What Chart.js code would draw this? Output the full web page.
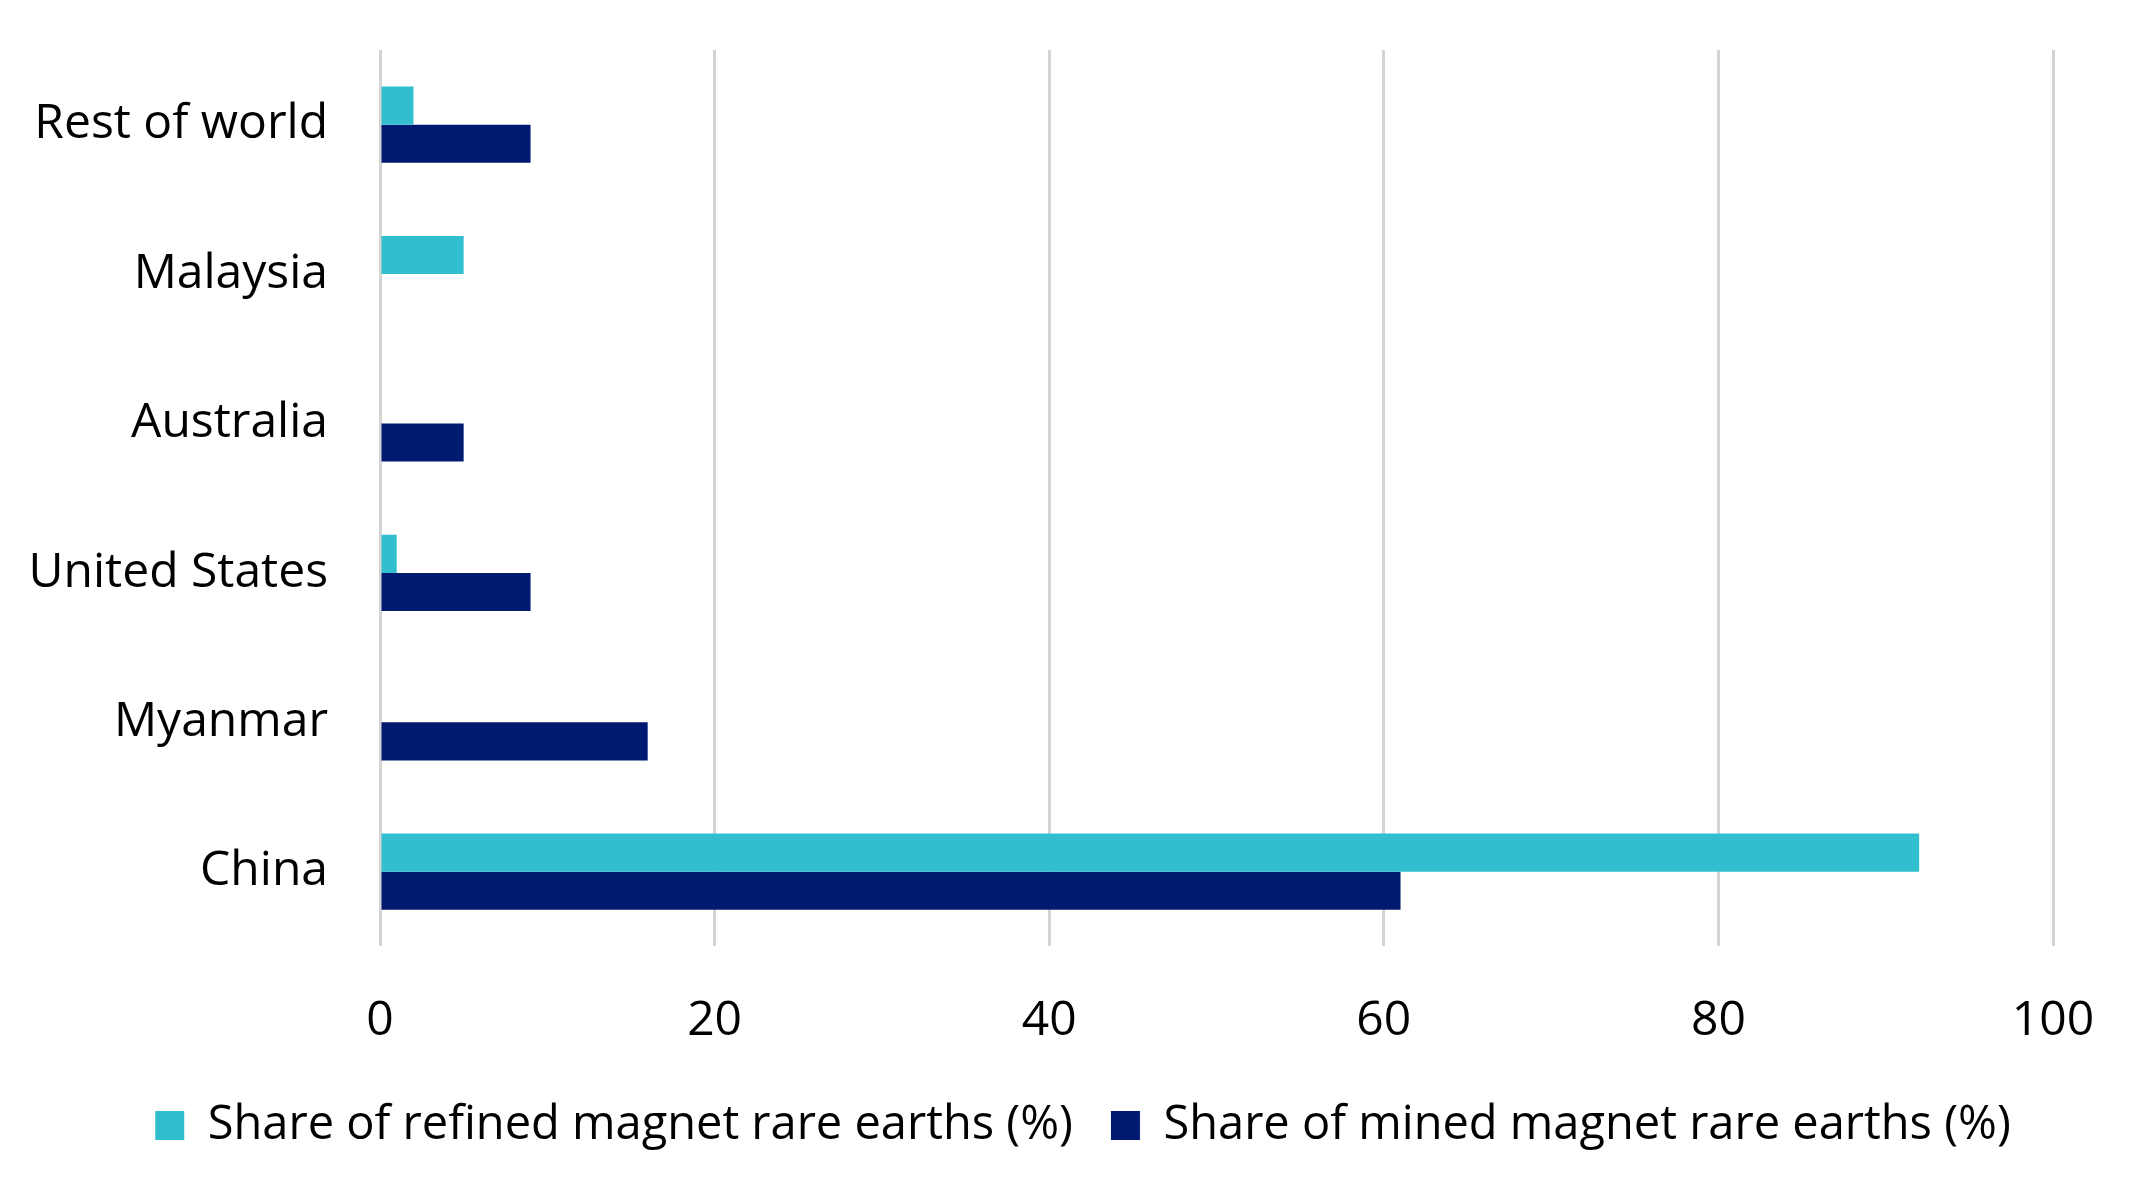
<!DOCTYPE html>
<html>
<head>
<meta charset="utf-8">
<script src="https://cdn.jsdelivr.net/npm/chart.js@4.4.1/dist/chart.umd.min.js"></script>
<style>
  html, body { margin: 0; padding: 0; background: #fff; }
</style>
</head>
<body>
<canvas id="rareEarthsChart" width="2145" height="1195"></canvas>
<script>
const countries = ['Rest of world', 'Malaysia', 'Australia', 'United States', 'Myanmar', 'China']

const refinedShare = [2, 5, 0, 1, 0, 92]
const minedShare = [9, 0, 5, 9, 16, 61]

const xTicks = [0, 20, 40, 60, 80, 100]

const data = {
  labels: countries,
  datasets: [{
    label: 'Share of refined magnet rare earths (%)',
    backgroundColor: '#31bfcf',
    data: refinedShare
  }, {
    label: 'Share of mined magnet rare earths (%)',
    backgroundColor: '#001a72',
    data: minedShare
  }]
};

const family = '"Open Sans", "Noto Sans", sans-serif';
const axisFont = { family: family, size: 48 };
const legendFont = { family: family, size: 47 };

const config = {
  type: 'bar',
  data: data,
  options: {
    indexAxis: 'y',
    responsive: false,
    animation: false,
    categoryPercentage: 0.51,
    barPercentage: 1,
    layout: { padding: { left: 21, right: 0, top: 50, bottom: 36 } },
    scales: {
      x: {
        min: 0,
        max: 100,
        afterBuildTicks: (axis) => { axis.ticks = xTicks.map(v => ({ value: v })) },
        afterFit: (axis) => {
          axis.paddingRight = 92
          axis.height = axis.height - 32
        },
        grid: { color: '#d4d4d4', lineWidth: 3, drawTicks: false },
        border: { display: false },
        ticks: { color: '#000', font: axisFont, padding: 46 }
      },
      y: {
        afterFit: (axis) => {
          axis.width = 359
          axis.paddingTop = 0
          axis.paddingBottom = 0
        },
        grid: { display: false, drawTicks: false },
        border: { display: false },
        ticks: { color: '#000', font: axisFont, padding: 52 }
      }
    },
    plugins: {
      legend: {
        position: 'bottom',
        labels: { color: '#000', font: legendFont, boxWidth: 29, boxHeight: 29, padding: 38 }
      },
      tooltip: { enabled: false }
    }
  }
};

const rareEarthsChart = new Chart(
  document.getElementById('rareEarthsChart').getContext('2d'),
  config
);
</script>
</body>
</html>
